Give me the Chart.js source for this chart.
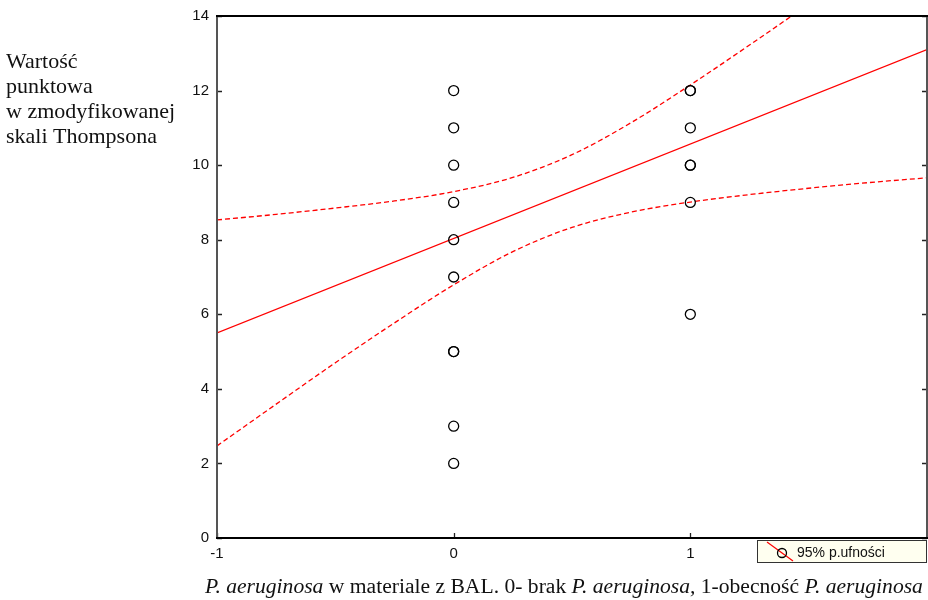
<!DOCTYPE html>
<html>
<head>
<meta charset="utf-8">
<script src="https://cdn.jsdelivr.net/npm/chart.js@4/dist/chart.umd.min.js"></script>
<style>
    body { margin: 0; background: #fff; }
    #wrap { width: 928px; height: 600px; position: relative; }
</style>
</head>
<body>
<div id="wrap"><canvas id="scatterChart" width="928" height="600"></canvas></div>
<script>
// observed scores, grouped by presence of P. aeruginosa (0 / 1)
const scoresAbsent = [12, 11, 10, 9, 8, 7, 5, 5, 3, 2];
const scoresPresent = [12, 12, 11, 10, 10, 9, 6];

// fitted regression line
const fitX = [-1, 2];
const fitY = [5.5, 13.1];

// 95% confidence band
const bandX = [-1, -0.75, -0.5, -0.25, 0, 0.25, 0.5, 0.75, 1, 1.25, 1.5, 1.75, 2];
const bandUpper = [8.53, 8.68, 8.85, 9.04, 9.29, 9.67, 10.28, 11.14, 12.15, 13.22, 14.32, 15.44, 16.56];
const bandLower = [2.47, 3.59, 4.70, 5.77, 6.79, 7.68, 8.33, 8.74, 9.01, 9.21, 9.38, 9.53, 9.66];

const xTicks = [-1, 0, 1, 2];
const yTicks = [0, 2, 4, 6, 8, 10, 12, 14];

const yTitle = ['Wartość', 'punktowa', 'w zmodyfikowanej', 'skali Thompsona'];
const xTitle = [
    ['P. aeruginosa', true],
    [' w materiale z BAL. 0- brak ', false],
    ['P. aeruginosa,', true],
    [' 1-obecność ', false],
    ['P. aeruginosa', true]
];
const legendText = '95% p.ufności';

const points = scoresAbsent.map(v => ({x: 0, y: v}))
    .concat(scoresPresent.map(v => ({x: 1, y: v})));
const toXY = (xs, ys) => xs.map((x, i) => ({x: x, y: ys[i]}));

const framePlugin = {
    id: 'frame',
    afterDatasetsDraw(chart) {
        const ctx = chart.ctx;
        const a = chart.chartArea;
        const xs = chart.scales.x, ys = chart.scales.y;
        ctx.save();
        // tick marks, pointing inward
        ctx.strokeStyle = '#222';
        ctx.lineWidth = 1.3;
        ctx.beginPath();
        yTicks.forEach(t => {
            const py = Math.round(ys.getPixelForValue(t)) + 0.5;
            ctx.moveTo(a.left, py); ctx.lineTo(a.left + 5, py);
            ctx.moveTo(a.right, py); ctx.lineTo(a.right - 5, py);
        });
        xTicks.forEach(t => {
            const px = Math.round(xs.getPixelForValue(t)) + 0.5;
            ctx.moveTo(px, a.bottom); ctx.lineTo(px, a.bottom - 5);
        });
        ctx.stroke();
        // frame: grey sides, black top and bottom
        ctx.lineWidth = 2;
        ctx.strokeStyle = '#555';
        ctx.beginPath();
        ctx.moveTo(a.left, a.top); ctx.lineTo(a.left, a.bottom);
        ctx.moveTo(a.right, a.top); ctx.lineTo(a.right, a.bottom);
        ctx.stroke();
        ctx.strokeStyle = '#000';
        ctx.beginPath();
        ctx.moveTo(a.left - 1, a.top); ctx.lineTo(a.right + 1, a.top);
        ctx.moveTo(a.left - 1, a.bottom); ctx.lineTo(a.right + 1, a.bottom);
        ctx.stroke();
        ctx.restore();
    },
    afterDraw(chart) {
        const ctx = chart.ctx;
        ctx.save();
        ctx.fillStyle = '#111';
        ctx.textBaseline = 'alphabetic';
        ctx.textAlign = 'left';

        // y axis title, top-left
        ctx.font = '22px "Liberation Serif"';
        yTitle.forEach((line, i) => ctx.fillText(line, 6, 68 + i * 25));

        // x axis title, mixed italic / upright
        let x = 205;
        xTitle.forEach(([txt, it]) => {
            ctx.font = (it ? 'italic ' : '') + '21.6px "Liberation Serif"';
            ctx.fillText(txt, x, 593);
            x += ctx.measureText(txt).width;
        });

        // legend box in bottom-right corner
        const bx = 757.5, by = 540.5, bw = 169, bh = 22;
        ctx.fillStyle = '#fffff0';
        ctx.fillRect(bx, by, bw, bh);
        ctx.strokeStyle = '#333';
        ctx.lineWidth = 1;
        ctx.strokeRect(bx, by, bw, bh);
        ctx.strokeStyle = '#ff0000';
        ctx.lineWidth = 1.2;
        ctx.beginPath();
        ctx.moveTo(767, 542); ctx.lineTo(793, 561);
        ctx.stroke();
        ctx.strokeStyle = '#000';
        ctx.lineWidth = 1.3;
        ctx.beginPath();
        ctx.arc(782, 553, 4.5, 0, Math.PI * 2);
        ctx.stroke();
        ctx.fillStyle = '#111';
        ctx.font = '14px "Liberation Sans"';
        ctx.textBaseline = 'middle';
        ctx.fillText(legendText, 797, 553);
        ctx.restore();
    }
};

const ctx = document.getElementById('scatterChart').getContext('2d');
new Chart(ctx, {
    type: 'scatter',
    data: {
        datasets: [{
            label: 'obs',
            data: points,
            pointStyle: 'circle',
            pointRadius: 5,
            pointBorderWidth: 1.3,
            pointBorderColor: '#000',
            pointBackgroundColor: 'rgba(0,0,0,0)',
            showLine: false
        }, {
            label: 'fit',
            data: toXY(fitX, fitY),
            showLine: true,
            borderColor: '#ff0000',
            borderWidth: 1.3,
            pointRadius: 0,
            clip: 0
        }, {
            label: 'upper',
            data: toXY(bandX, bandUpper),
            showLine: true,
            borderColor: '#ff0000',
            borderWidth: 1.3,
            borderDash: [5, 3],
            cubicInterpolationMode: 'monotone',
            pointRadius: 0,
            clip: 0
        }, {
            label: 'lower',
            data: toXY(bandX, bandLower),
            showLine: true,
            borderColor: '#ff0000',
            borderWidth: 1.3,
            borderDash: [5, 3],
            cubicInterpolationMode: 'monotone',
            pointRadius: 0,
            clip: 0
        }]
    },
    options: {
        responsive: false,
        animation: false,
        layout: { autoPadding: false, padding: { top: 16, right: 1, bottom: 0, left: 0 } },
        plugins: {
            legend: { display: false },
            tooltip: { enabled: false }
        },
        scales: {
            x: {
                type: 'linear',
                min: -1,
                max: 2,
                afterBuildTicks: scale => { scale.ticks = xTicks.map(v => ({value: v})); },
                afterFit: scale => {
                    scale.height = 62;
                    scale.paddingLeft = 0;
                    scale.paddingRight = 0;
                },
                grid: { display: false, drawTicks: false },
                border: { display: false },
                ticks: {
                    padding: 7,
                    color: '#111',
                    font: { family: 'Liberation Sans', size: 15 },
                    maxRotation: 0,
                    callback: v => (v === 2 ? '' : v)
                }
            },
            y: {
                min: 0,
                max: 14,
                afterBuildTicks: scale => { scale.ticks = yTicks.map(v => ({value: v})); },
                afterFit: scale => {
                    scale.width = 217;
                    scale.paddingTop = 0;
                    scale.paddingBottom = 0;
                },
                grid: { display: false, drawTicks: false },
                border: { display: false },
                ticks: {
                    padding: 8,
                    color: '#111',
                    font: { family: 'Liberation Sans', size: 15 }
                }
            }
        }
    },
    plugins: [framePlugin]
});
</script>
</body>
</html>
